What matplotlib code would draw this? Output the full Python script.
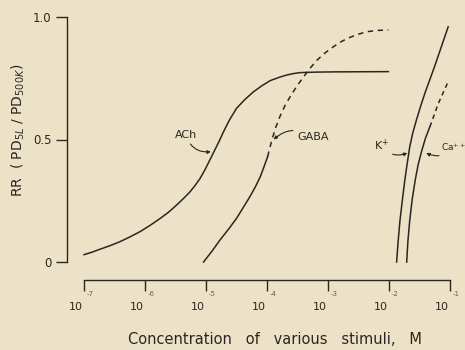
import numpy as np
import matplotlib
matplotlib.use('Agg')
import matplotlib.pyplot as plt

# log10 concentration (M) and relative response
ach_logc = [-7.00, -6.87, -6.74, -6.58, -6.41, -6.25, -6.08, -5.92, -5.75, -5.61,
            -5.48, -5.37, -5.26, -5.18, -5.10, -5.02, -4.95, -4.90, -4.85, -4.78,
            -4.72, -4.66, -4.61, -4.50, -4.36, -4.22, -4.08, -3.95, -3.81, -3.68,
            -3.57, -3.46, -3.20, -2.91, -2.01]
ach_rr = [0.030, 0.040, 0.052, 0.066, 0.083, 0.102, 0.124, 0.149, 0.178, 0.204,
          0.233, 0.259, 0.287, 0.312, 0.340, 0.375, 0.410, 0.435, 0.460, 0.495,
          0.528, 0.558, 0.582, 0.627, 0.664, 0.695, 0.720, 0.740, 0.753, 0.763,
          0.769, 0.773, 0.775, 0.776, 0.777]

gaba_logc = [-5.04, -4.90, -4.77, -4.63, -4.50, -4.39, -4.28, -4.19, -4.11, -4.05, -3.99]
gaba_rr = [0.0, 0.045, 0.09, 0.134, 0.178, 0.222, 0.267, 0.307, 0.348, 0.388, 0.43]
gaba_ext_logc = [-3.99, -3.92, -3.86, -3.79, -3.71, -3.62, -3.51, -3.40, -3.29,
                 -3.18, -3.05, -2.91, -2.78, -2.64, -2.50, -2.36, -2.20, -2.01]
gaba_ext_rr = [0.43, 0.498, 0.547, 0.593, 0.636, 0.675, 0.718, 0.756, 0.792,
               0.824, 0.853, 0.879, 0.900, 0.917, 0.930, 0.940, 0.945, 0.947]

k_logc = [-1.875, -1.85, -1.82, -1.78, -1.74, -1.70, -1.66, -1.61, -1.55, -1.48,
          -1.41, -1.33, -1.25, -1.14, -1.03]
k_rr = [0.0, 0.085, 0.17, 0.255, 0.335, 0.405, 0.47, 0.527, 0.58, 0.637,
        0.69, 0.745, 0.80, 0.88, 0.96]

ca_logc = [-1.71, -1.69, -1.66, -1.62, -1.57, -1.52, -1.46, -1.40, -1.33]
ca_rr = [0.0, 0.085, 0.17, 0.255, 0.335, 0.40, 0.457, 0.507, 0.552]
ca_ext_logc = [-1.33, -1.26, -1.19, -1.11, -1.03]
ca_ext_rr = [0.552, 0.600, 0.648, 0.692, 0.736]

exponents = [-7, -6, -5, -4, -3, -2, -1]
yticks = [0, 0.5, 1.0]
ytick_labels = ['0', '0.5', '1.0']

bg = '#ece2c7'
ink = '#2b2620'

plt.rcParams['font.family'] = ['DejaVu Sans']

fig = plt.figure(figsize=(4.65, 3.5), dpi=100, facecolor=bg)
ax = fig.add_axes([84 / 465, 88 / 350, 366 / 465, 245 / 350], facecolor=bg)

def conc(v):
    return np.power(10.0, v)

lw = 1.1
style = dict(color=ink, lw=lw, solid_joinstyle='round', clip_on=False)
ax.plot(conc(ach_logc), ach_rr, **style)
ax.plot(conc(gaba_logc), gaba_rr, **style)
ax.plot(conc(gaba_ext_logc), gaba_ext_rr, dashes=(3.5, 3), **style)
ax.plot(conc(k_logc), k_rr, **style)
ax.plot(conc(ca_logc), ca_rr, **style)
ax.plot(conc(ca_ext_logc), ca_ext_rr, dashes=(3, 2.5), **style)

ax.set_xscale('log')
ax.set_xlim(1e-7, 1e-1)
ax.set_ylim(0, 1)

for s in ['top', 'right']:
    ax.spines[s].set_visible(False)
ax.spines['left'].set_position(('outward', 12.5))
ax.spines['bottom'].set_position(('outward', 13))
ax.spines['left'].set_bounds(0, 1)
ax.spines['bottom'].set_bounds(1e-7, 1e-1)
for s in ['left', 'bottom']:
    ax.spines[s].set_color(ink)
    ax.spines[s].set_linewidth(1.0)

ax.set_yticks(yticks)
ax.set_yticklabels(ytick_labels)
ax.tick_params(axis='y', direction='out', length=8, width=1.0, color=ink,
               labelsize=8.5, labelcolor=ink, pad=3)
ax.set_xticks(conc(exponents))
ax.set_xticklabels([''] * len(exponents))
ax.minorticks_off()
ax.tick_params(axis='x', direction='out', length=8, width=1.0, color=ink)

# "10" with a small raised exponent off to the right, like the original
for e in exponents:
    ax.annotate('10', xy=(conc(e), 0), xycoords=('data', 'axes fraction'),
                xytext=(-1, -45), textcoords='offset pixels',
                ha='right', va='center', fontsize=8, color=ink)
    ax.annotate(str(e), xy=(conc(e), 0), xycoords=('data', 'axes fraction'),
                xytext=(3, -32), textcoords='offset pixels',
                ha='left', va='center', fontsize=5, color='#6a6258')

fig.text(275 / 465, 1 - 340 / 350, 'Concentration   of   various   stimuli,   M',
         ha='center', va='center', fontsize=10.5, color=ink)
fig.text(18 / 465, 1 - 130 / 350, r'RR  ( PD$_{5L}$ / PD$_{500K}$)',
         ha='center', va='center', rotation=90, fontsize=10, color=ink)

arrow = dict(arrowstyle='-|>', lw=0.8, color=ink, mutation_scale=5,
             shrinkA=1, shrinkB=0)
ax.annotate('ACh', xy=(conc(-4.92), 0.45), xytext=(conc(-5.33), 0.518),
            ha='center', va='center', fontsize=8, color=ink,
            arrowprops=dict(arrow, connectionstyle='arc3,rad=0.4'))
ax.annotate('GABA', xy=(conc(-3.89), 0.50), xytext=(conc(-3.25), 0.51),
            ha='center', va='center', fontsize=8, color=ink,
            arrowprops=dict(arrow, connectionstyle='arc3,rad=0.4'))
ax.annotate('K$^{+}$', xy=(conc(-1.70), 0.445), xytext=(conc(-2.13), 0.478),
            ha='center', va='center', fontsize=8, color=ink,
            arrowprops=dict(arrow, connectionstyle='arc3,rad=0.4'))
ax.annotate('Ca$^{++}$', xy=(conc(-1.39), 0.445), xytext=(conc(-1.15), 0.47),
            ha='left', va='center', fontsize=6.5, color=ink, annotation_clip=False,
            arrowprops=dict(arrow, connectionstyle='arc3,rad=-0.4'))

fig.savefig('out.png', dpi=100, facecolor=bg)
plt.close(fig)
